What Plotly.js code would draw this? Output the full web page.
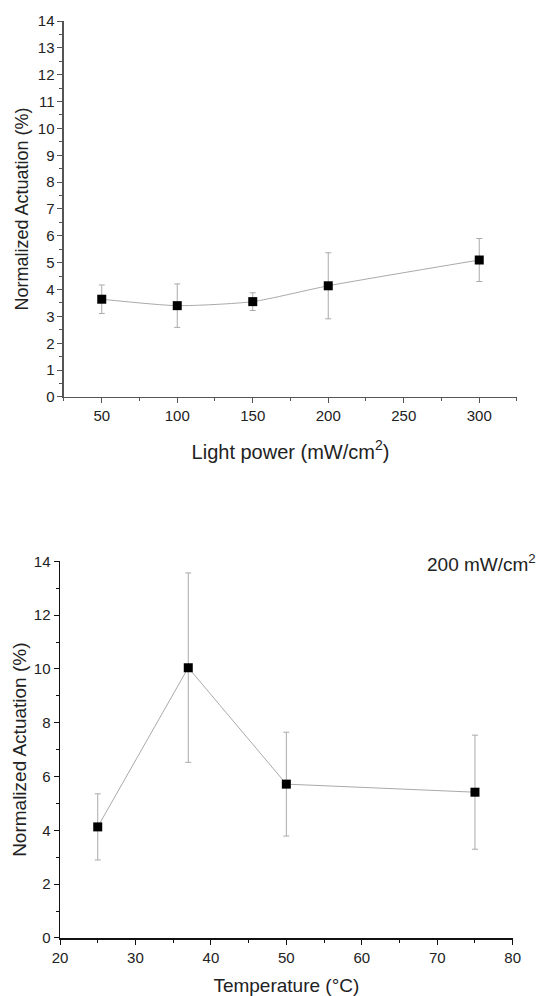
<!DOCTYPE html>
<html>
<head>
<meta charset="utf-8">
<script src="https://cdn.plot.ly/plotly-3.0.1.min.js"></script>
<style>html,body{margin:0;padding:0;background:#fff;}#chart{width:539px;height:996px;}</style>
</head>
<body>
<div id="chart"></div>
<script>
// Top panel: actuation vs light power
const powerX = [50, 100, 150, 200, 300];
const powerY = [3.64, 3.40, 3.55, 4.14, 5.10];
const powerErr = [0.53, 0.81, 0.33, 1.23, 0.80];

// Bottom panel: actuation vs temperature (at 200 mW/cm²)
const tempX = [25, 37, 50, 75];
const tempY = [4.13, 10.05, 5.72, 5.42];
const tempErr = [1.23, 3.52, 1.93, 2.12];

const font = 'Liberation Sans, Arial, sans-serif';
const txt = '#222';

const traces = [
  {
    x: powerX, y: powerY, xaxis: 'x', yaxis: 'y',
    type: 'scatter', mode: 'lines+markers',
    line: {color: '#aaaaaa', width: 1, shape: 'spline', smoothing: 0.6},
    marker: {symbol: 'square', size: 9, color: '#000'},
    error_y: {type: 'data', array: powerErr, visible: true, color: '#aaaaaa', thickness: 1, width: 3},
    showlegend: false, hoverinfo: 'skip'
  },
  {
    x: tempX, y: tempY, xaxis: 'x2', yaxis: 'y2',
    type: 'scatter', mode: 'lines+markers',
    line: {color: '#aaaaaa', width: 1},
    marker: {symbol: 'square', size: 9, color: '#000'},
    error_y: {type: 'data', array: tempErr, visible: true, color: '#aaaaaa', thickness: 1, width: 3},
    showlegend: false, hoverinfo: 'skip'
  }
];

const axisCommon = {
  showgrid: false, zeroline: false, showline: true,
  ticks: 'outside', ticklen: 5, tickwidth: 1,
  tickfont: {family: font, size: 15, color: txt}
};

const layout = {
  width: 539, height: 996,
  margin: {l: 60, r: 22, t: 21, b: 58},
  paper_bgcolor: '#fff', plot_bgcolor: '#fff',
  font: {family: font, color: txt},
  xaxis: Object.assign({}, axisCommon, {
    domain: [0.00875, 1], anchor: 'y',
    range: [25, 325], tickmode: 'array', tickvals: [50, 100, 150, 200, 250, 300],
    minor: {dtick: 25, tick0: 25, ticks: 'outside', ticklen: 3, tickcolor: '#555'},
    linecolor: '#555', linewidth: 1.5, tickcolor: '#555',
    title: {text: 'Light power (mW/cm<sup>2</sup>)', font: {family: font, size: 20, color: txt}, standoff: 21}
  }),
  yaxis: Object.assign({}, axisCommon, {
    domain: [0.59, 1], anchor: 'x',
    range: [0, 14], dtick: 1, tick0: 0,
    minor: {dtick: 0.5, ticks: 'outside', ticklen: 3, tickcolor: '#555'},
    linecolor: '#555', linewidth: 1.5, tickcolor: '#555',
    title: {text: 'Normalized Actuation (%)', font: {family: font, size: 18, color: txt}, standoff: 4}
  }),
  xaxis2: Object.assign({}, axisCommon, {
    domain: [0, 0.9906], anchor: 'y2',
    range: [20, 80], dtick: 10, tick0: 20,
    minor: {dtick: 5, ticks: 'outside', ticklen: 3, tickcolor: '#111'},
    linecolor: '#111', linewidth: 1.5, tickcolor: '#111',
    title: {text: 'Temperature (°C)', font: {family: font, size: 19, color: txt}, standoff: 17}
  }),
  yaxis2: Object.assign({}, axisCommon, {
    domain: [0, 0.4107], anchor: 'x2',
    range: [0, 14], dtick: 2, tick0: 0,
    minor: {dtick: 1, ticks: 'outside', ticklen: 3, tickcolor: '#111'},
    linecolor: '#111', linewidth: 1.5, tickcolor: '#111',
    title: {text: 'Normalized Actuation (%)', font: {family: font, size: 19, color: txt}, standoff: 2}
  }),
  annotations: [
    {text: '200 mW/cm<sup>2</sup>', xref: 'paper', yref: 'paper', x: 1.046, y: 0.409,
     xanchor: 'right', yanchor: 'middle', showarrow: false,
     font: {family: font, size: 19, color: txt}}
  ]
};

Plotly.newPlot('chart', traces, layout, {staticPlot: true, displayModeBar: false});
</script>
</body>
</html>
